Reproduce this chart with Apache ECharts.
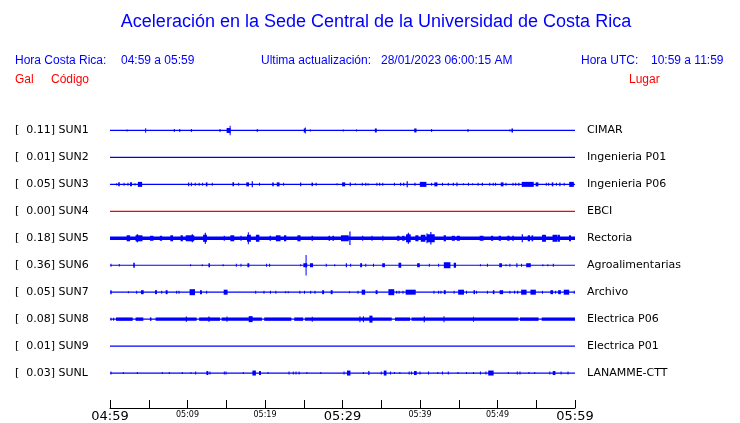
<!DOCTYPE html>
<html><head><meta charset="utf-8">
<script src="https://cdn.jsdelivr.net/npm/echarts@6/dist/echarts.min.js"></script>
<style>html,body{margin:0;padding:0;background:#fff}#c{width:740px;height:423px}</style>
</head><body><div id="c"></div><script>
// ---- data ----
const stations = ['SUN1','SUN2','SUN3','SUN4','SUN5','SUN6','SUN7','SUN8','SUN9','SUNL'];
const peaks = ['0.11','0.01','0.05','0.00','0.18','0.36','0.05','0.08','0.01','0.03'];
const places = ['CIMAR','Ingenieria P01','Ingenieria P06','EBCI','Rectoria','Agroalimentarias','Archivo','Electrica P06','Electrica P01','LANAMME-CTT'];
const tickLabels = ['04:59','','05:09','','05:19','','05:29','','05:39','','05:49','','05:59'];
const majorLabels = ['04:59','05:29','05:59'];
// events per trace: [minute after 04:59, half amplitude (relative), duration (min)]
const sun1 = [[2.2,1,0.1],[4.6,2.3,0.1],[8.3,1.5,0.1],[9.0,1.5,0.1],[10.5,1.5,0.1],[14.2,1.5,0.1],[15.3,2.5,0.5],[15.5,4.7,0.13],[19.0,1.5,0.1],[25.1,2,0.2],[25.2,3,0.12],[25.85,1,0.1],[30.1,1,0.1],[31.8,1,0.1],[34.3,2,0.25],[39.4,2,0.3],[41.5,1.5,0.1],[46.2,1.5,0.1],[51.6,1,0.1],[51.9,2,0.2]];
const sun2 = [];
const sun3 = [[0.86,1.2,0.1],[1.16,2,0.2],[1.81,1.5,0.1],[2.32,1.5,0.1],[2.71,2,0.25],[3.23,1.2,0.1],[3.87,2.5,0.55],[10.15,1.8,0.15],[10.5,1.8,0.1],[11.0,1.5,0.1],[11.5,1.5,0.1],[11.95,1.5,0.1],[12.47,2,0.2],[13.2,1.5,0.1],[15.9,2,0.2],[16.6,1.5,0.1],[17.76,2,0.35],[18.36,3,0.15],[19.3,1.5,0.1],[21.03,1.8,0.2],[21.7,2,0.35],[22.4,1.5,0.1],[24.6,1.8,0.15],[26.1,1.8,0.2],[26.6,1.5,0.1],[29.3,1,0.1],[30.15,2,0.4],[31.0,1.8,0.15],[31.65,1,0.1],[32.55,1.5,0.1],[33.0,1.5,0.1],[33.3,1.2,0.1],[34.44,1.5,0.1],[34.8,1.5,0.1],[35.2,1.5,0.1],[36.7,1.5,0.1],[37.5,1.5,0.15],[37.9,1.5,0.15],[38.35,3,0.15],[39.35,1.5,0.15],[40.4,2.5,0.85],[41.5,1.5,0.1],[42.05,2,0.4],[42.9,1.5,0.1],[43.65,1.5,0.1],[44.3,1.5,0.15],[44.77,1.8,0.15],[45.6,1,0.1],[46.25,1.5,0.1],[46.8,1,0.1],[47.5,1.5,0.1],[48.05,1.5,0.15],[49.0,1.5,0.1],[49.45,1.5,0.1],[49.75,1.5,0.1],[50.6,2,0.35],[51.1,1.5,0.1],[52.0,1.5,0.1],[52.35,1.5,0.1],[52.75,1.5,0.15],[53.9,2.5,1.55],[55.1,2,0.35],[56.3,1.5,0.1],[56.6,1.5,0.1],[57.1,2,0.2],[57.6,1.5,0.1],[58.05,1.8,0.15],[58.6,1.5,0.1],[59.55,2.5,0.6]];
const sun4 = [];
const sun5 = [[30,1.8,60],[2.37,3,0.45],[3.53,4,0.2],[3.74,3,0.9],[5.38,2.5,0.45],[6.58,2.5,0.3],[7.96,3,0.35],[9.25,3,0.3],[10.32,3,1.1],[10.62,4,0.15],[12.26,3.5,0.5],[12.3,5.5,0.15],[14.75,2.5,0.15],[15.78,3,0.5],[16.9,2.5,0.15],[17.93,3.5,0.5],[17.85,6,0.12],[19.05,3.5,0.45],[20.68,2.5,0.2],[21.7,3,0.6],[22.6,3,0.3],[24.38,3,0.4],[26.1,2.5,0.2],[28.3,2.5,0.2],[28.8,2.5,0.2],[30.3,3,1.0],[30.96,6.7,0.15],[32.6,2.5,0.15],[33.8,2.5,0.15],[35.2,2.5,0.15],[37.2,2.5,0.3],[37.85,2.5,0.3],[38.5,4,0.6],[38.5,5.5,0.15],[39.6,3,0.4],[40.4,3.5,0.6],[41.4,4,1.0],[41.4,6.3,0.15],[40.9,5,0.12],[43.2,3,0.3],[44.3,2.5,0.4],[44.95,2.5,0.4],[47.95,2.5,0.5],[49.3,2.5,0.3],[50.3,2.5,0.3],[51.4,2.5,0.3],[52.0,2.5,0.2],[53.2,4,0.15],[54.05,3,0.3],[54.5,3,0.2],[56.0,3.5,0.5],[57.4,3.5,0.6],[57.9,3.5,0.3],[59.35,3,0.25]];
const sun6 = [[0.13,1.5,0.1],[1.2,1.2,0.1],[3.1,2.5,0.2],[10.4,1,0.1],[11.9,1,0.1],[12.8,2,0.2],[14.6,1,0.1],[16.3,1.5,0.1],[16.9,1.5,0.1],[17.85,2,0.25],[20.2,1.5,0.1],[20.6,1.5,0.1],[24.6,1,0.1],[25.2,2,0.5],[25.3,10.3,0.12],[26.0,2,0.4],[27.9,1.5,0.1],[29.0,1,0.1],[30.5,2,0.15],[31.05,1.5,0.1],[32.4,2,0.25],[33.0,1.5,0.1],[34.0,1.5,0.1],[35.3,2,0.35],[37.4,2.5,0.35],[39.8,2,0.35],[41.2,1.5,0.1],[42.4,1.5,0.1],[43.5,3,0.85],[44.5,2.5,0.3],[47.8,1,0.1],[48.7,1.5,0.1],[50.4,2,0.35],[51.1,1,0.1],[51.6,1.5,0.1],[52.5,2,0.15],[53.1,1.5,0.1],[54.0,2,0.6],[55.85,1,0.1],[56.5,1,0.1],[57.2,1.5,0.1]];
const sun7 = [[0.13,2,0.17],[2.37,1,0.1],[3.44,1.5,0.1],[4.17,2,0.35],[5.93,2,0.25],[6.67,1.5,0.1],[7.31,2,0.25],[8.6,1.5,0.1],[8.9,1.5,0.1],[10.62,3,0.7],[11.74,2,0.25],[12.47,1.5,0.1],[14.92,2.5,0.5],[18.8,1.5,0.1],[19.87,1.5,0.1],[20.7,1.5,0.1],[21.4,1.5,0.1],[22.66,1,0.1],[23.0,1,0.1],[24.5,1.5,0.1],[25.1,1.5,0.1],[25.9,1.5,0.1],[26.45,1.5,0.1],[27.5,2,0.25],[28.6,2,0.25],[30.9,1,0.1],[32.0,1.5,0.1],[32.7,2.5,0.45],[34.4,2,0.25],[36.3,3,0.75],[37.0,1.5,0.1],[37.3,1.5,0.1],[37.8,1.5,0.1],[38.8,2.5,1.3],[41.8,1.5,0.1],[42.4,1.5,0.1],[42.7,1.5,0.1],[43.2,2,0.25],[44.4,1.5,0.1],[45.3,2.5,0.75],[46.0,1.5,0.1],[47.0,2,0.2],[47.3,1.5,0.1],[48.7,1.5,0.1],[49.5,2,0.2],[50.5,2,0.45],[51.6,1.5,0.1],[52.2,1.5,0.15],[52.6,1.5,0.15],[53.4,2.5,0.7],[54.6,2.5,0.7],[55.8,1.5,0.1],[57.0,2,0.35],[57.5,1.5,0.1],[58.0,2,0.35],[58.9,2.5,0.7],[59.9,1.5,0.1]];
const sun8 = [[0.13,1.5,0.1],[0.47,1.5,0.1],[1.85,1.7,2.15],[3.8,1.7,1.0],[5.25,1.7,0.2],[8.53,1.7,5.3],[12.85,1.7,2.7],[17.0,1.7,5.2],[21.65,1.7,3.5],[24.35,1.7,1.15],[30.75,1.7,11.2],[37.75,1.7,1.95],[45.8,1.7,13.8],[54.1,1.7,2.4],[57.85,1.7,4.3],[9.85,2.7,0.15],[12.77,2.7,0.15],[15.1,2.7,0.1],[18.15,3,0.5],[26.1,2.5,0.1],[32.25,3,0.12],[32.7,3,0.12],[33.67,3.5,0.4],[40.55,3,0.15],[43.1,3,0.12],[46.9,2.5,0.1]];
const sun9 = [];
const sunl = [[0.13,1.5,0.1],[1.72,1,0.1],[3.53,1,0.1],[6.75,1,0.1],[7.65,1,0.1],[9.33,1,0.1],[10.45,1,0.1],[11.05,1.5,0.1],[12.56,2,0.25],[12.9,1.5,0.1],[14.75,1.5,0.1],[14.97,1.5,0.1],[17.2,1,0.1],[18.6,2.5,0.45],[19.35,2,0.25],[20.4,1,0.1],[23.1,1.5,0.1],[23.65,1.5,0.1],[24.0,1.5,0.1],[24.4,1.5,0.1],[25.4,1,0.1],[27.2,1,0.1],[30.2,1.5,0.1],[30.8,2.5,0.45],[32.7,1,0.1],[33.4,2,0.15],[35.0,1.5,0.1],[35.5,2.5,0.35],[36.2,1.5,0.1],[36.7,1,0.1],[37.4,1,0.1],[38.6,1.5,0.1],[38.9,1.5,0.1],[39.4,2,0.35],[40.0,1.5,0.1],[41.1,1.5,0.1],[42.3,1,0.1],[42.9,1.5,0.1],[43.65,1.5,0.1],[44.9,1,0.1],[46.0,1,0.1],[46.9,1,0.1],[47.8,1.5,0.1],[48.5,1.5,0.1],[49.15,2.5,0.7],[51.4,1,0.1],[52.55,1.5,0.1],[52.9,1.5,0.1],[54.05,1,0.1],[54.8,1,0.1],[56.75,1.5,0.1],[57.3,2,0.35],[58.2,1.5,0.1],[59.1,1.5,0.1]];
const traces = [sun1,sun2,sun3,sun4,sun5,sun6,sun7,sun8,sun9,sunl];

// ---- layout / style ----
const SP = 27;             // vertical spacing between trace baselines (axis units)
const BLUE = '#0000ff', RED = '#ff0000';
const traceColor = i => (i === 3 ? RED : BLUE);
const FONT = 'DejaVu Sans';
const HFONT = 'Liberation Sans';

const series = [];
traces.forEach((ev, i) => {
  const base = -SP * i;
  series.push({
    type: 'line', xAxisIndex: 0, yAxisIndex: 0,
    data: [[0, base], [60, base]], symbol: 'none', silent: true,
    lineStyle: { color: traceColor(i), width: 1.2 }, z: 2
  });
  if (ev.length) {
    series.push({
      type: 'custom', xAxisIndex: 0, yAxisIndex: 0, silent: true, z: 3,
      data: ev.map(e => [e[0], e[1], e[2], base]),
      encode: { x: 0, y: 3 },
      renderItem: (params, api) => {
        const t = api.value(0), a = api.value(1), d = api.value(2), b = api.value(3);
        const p1 = api.coord([t - d / 2, b + a]);
        const p2 = api.coord([t + d / 2, b - a]);
        const w = Math.max(p2[0] - p1[0], 1);
        const cx = (p1[0] + p2[0]) / 2;
        return { type: 'rect', shape: { x: cx - w / 2, y: p1[1], width: w, height: p2[1] - p1[1] },
                 style: { fill: traceColor(i) } };
      }
    });
  }
});

const yIdx = v => Math.round(-v / SP);
const chart = echarts.init(document.getElementById('c'), null, { renderer: 'canvas' });
chart.setOption({
  animation: false,
  backgroundColor: '#ffffff',
  grid: { left: 110, width: 465, top: 103.5, height: 297, containLabel: false },
  xAxis: {
    type: 'value', min: 0, max: 60, interval: 5, offset: 8,
    axisLine: { show: true, onZero: false, lineStyle: { color: '#000', width: 1 } },
    axisTick: { show: true, inside: true, length: 8, lineStyle: { color: '#000', width: 1 } },
    splitLine: { show: false },
    axisLabel: {
      show: true, margin: 2, showMinLabel: true, showMaxLabel: true,
      formatter: v => {
        const s = tickLabels[Math.round(v / 5)] || '';
        if (!s) return '';
        return majorLabels.includes(s) ? '{big|' + s + '}' : '{small|' + s + '}';
      },
      rich: {
        big: { fontFamily: FONT, fontSize: 13, color: '#000', padding: [0, 0, 0, 0] },
        small: { fontFamily: FONT, fontSize: 8, color: '#000', padding: [1, 0, 0, 0] }
      }
    }
  },
  yAxis: [{
    type: 'value', min: -SP * 10, max: SP, interval: SP, position: 'left',
    axisLine: { show: false }, axisTick: { show: false }, splitLine: { show: false },
    axisLabel: {
      show: true, align: 'left', margin: 95, fontFamily: FONT, fontSize: 11, color: '#000',
      formatter: v => { const k = yIdx(v); return (k >= 0 && k < 10 && v <= 0) ? '[  ' + peaks[k] + '] ' + stations[k] : ''; }
    }
  }, {
    type: 'value', min: -SP * 10, max: SP, interval: SP, position: 'right',
    axisLine: { show: false }, axisTick: { show: false }, splitLine: { show: false },
    axisLabel: {
      show: true, align: 'left', margin: 12, fontFamily: FONT, fontSize: 11, color: '#000',
      formatter: v => { const k = yIdx(v); return (k >= 0 && k < 10 && v <= 0) ? places[k] : ''; }
    }
  }],
  graphic: [
    { type: 'text', x: 376, y: 22, style: { text: 'Aceleración en la Sede Central de la Universidad de Costa Rica', fill: BLUE, font: '18px "' + HFONT + '"', textAlign: 'center', textVerticalAlign: 'middle' } },
    { type: 'text', x: 15, y: 61, style: { text: 'Hora Costa Rica:', fill: BLUE, font: '12px "' + HFONT + '"', textVerticalAlign: 'middle' } },
    { type: 'text', x: 121, y: 61, style: { text: '04:59 a 05:59', fill: BLUE, font: '12px "' + HFONT + '"', textVerticalAlign: 'middle' } },
    { type: 'text', x: 261, y: 61, style: { text: 'Ultima actualización:', fill: BLUE, font: '12px "' + HFONT + '"', textVerticalAlign: 'middle' } },
    { type: 'text', x: 381, y: 61, style: { text: '28/01/2023 06:00:15 AM', fill: BLUE, font: '12px "' + HFONT + '"', textVerticalAlign: 'middle' } },
    { type: 'text', x: 581, y: 61, style: { text: 'Hora UTC:', fill: BLUE, font: '12px "' + HFONT + '"', textVerticalAlign: 'middle' } },
    { type: 'text', x: 651, y: 61, style: { text: '10:59 a 11:59', fill: BLUE, font: '12px "' + HFONT + '"', textVerticalAlign: 'middle' } },
    { type: 'text', x: 15, y: 80, style: { text: 'Gal', fill: RED, font: '12px "' + HFONT + '"', textVerticalAlign: 'middle' } },
    { type: 'text', x: 51, y: 80, style: { text: 'Código', fill: RED, font: '12px "' + HFONT + '"', textVerticalAlign: 'middle' } },
    { type: 'text', x: 629, y: 80, style: { text: 'Lugar', fill: RED, font: '12px "' + HFONT + '"', textVerticalAlign: 'middle' } }
  ],
  series: series
});
</script></body></html>
